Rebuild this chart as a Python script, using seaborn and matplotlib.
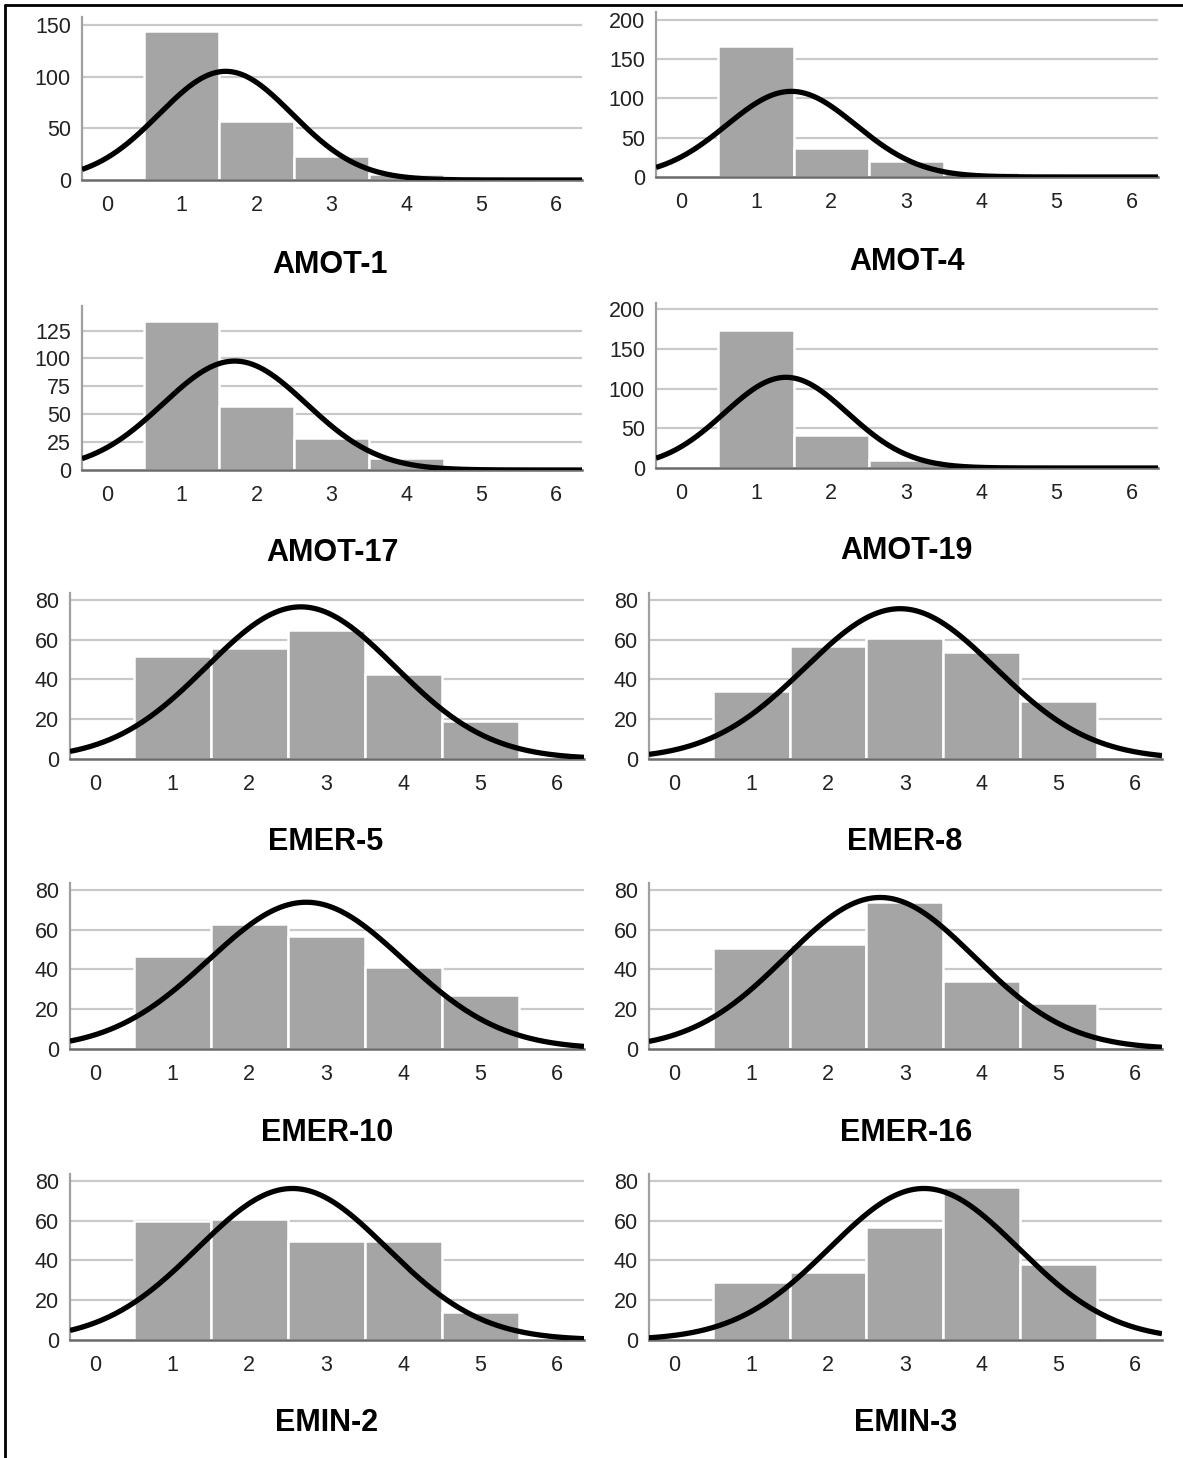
import numpy as np
import pandas as pd
import matplotlib
matplotlib.use("Agg")
import matplotlib.pyplot as plt
from matplotlib.lines import Line2D
import seaborn as sns

sns.set_theme(style="white")
plt.rcParams['font.family'] = ['Liberation Sans', 'DejaVu Sans']

# ---------------- data ----------------
panel_names = ["AMOT-1", "AMOT-4", "AMOT-17", "AMOT-19",
               "EMER-5", "EMER-8", "EMER-10", "EMER-16",
               "EMIN-2", "EMIN-3"]

amot1_values = [1, 2, 3, 4, 5, 6]
amot1_counts = [144, 57, 23, 6, 3, 1]
amot4_values = [1, 2, 3, 4, 5]
amot4_counts = [167, 37, 20, 7, 2]
amot17_values = [1, 2, 3, 4, 5, 6]
amot17_counts = [134, 57, 29, 11, 3, 1]
amot19_values = [1, 2, 3, 4, 5]
amot19_counts = [174, 41, 10, 3, 1]
emer5_values = [1, 2, 3, 4, 5]
emer5_counts = [52, 56, 65, 43, 19]
emer8_values = [1, 2, 3, 4, 5]
emer8_counts = [34, 57, 61, 54, 29]
emer10_values = [1, 2, 3, 4, 5]
emer10_counts = [47, 63, 57, 41, 27]
emer16_values = [1, 2, 3, 4, 5]
emer16_counts = [51, 53, 74, 34, 23]
emin2_values = [1, 2, 3, 4, 5]
emin2_counts = [60, 61, 50, 50, 14]
emin3_values = [1, 2, 3, 4, 5]
emin3_counts = [29, 34, 57, 77, 38]

# fitted normal curve parameters (mean, std. dev.) and sample size
curve_means = [1.59, 1.47, 1.71, 1.40, 2.67, 2.94, 2.74, 2.68, 2.56, 3.25]
curve_sds = [0.89, 0.86, 0.96, 0.82, 1.225, 1.24, 1.27, 1.23, 1.23, 1.23]
sample_n = 235

y_tick_steps = [50, 50, 25, 50, 20, 20, 20, 20, 20, 20]
y_tick_max = [150, 200, 125, 200, 80, 80, 80, 80, 80, 80]
y_limits = [158, 210, 147, 208, 83.5, 83.5, 83.5, 83.5, 83.5, 83.5]
x_tick_labels = [0, 1, 2, 3, 4, 5, 6]

values_list = [amot1_values, amot4_values, amot17_values, amot19_values,
               emer5_values, emer8_values, emer10_values, emer16_values,
               emin2_values, emin3_values]
counts_list = [amot1_counts, amot4_counts, amot17_counts, amot19_counts,
               emer5_counts, emer8_counts, emer10_counts, emer16_counts,
               emin2_counts, emin3_counts]

# ---------------- layout (pixels) ----------------
W, H = 1183, 1458
fig = plt.figure(figsize=(W / 100, H / 100), dpi=100)
fig.patch.set_facecolor("white")

# (left, top, right, bottom) in px
boxes = [
    (82, 17, 582, 180), (656, 12, 1158, 177),
    (82, 306, 582, 470), (656, 303, 1158, 468),
    (70, 593, 584, 759), (649, 593, 1162, 759),
    (70, 883, 584, 1049), (649, 883, 1162, 1049),
    (70, 1174, 584, 1340), (649, 1174, 1162, 1340),
]
title_pos = [
    (330, 265), (907, 262),
    (332, 553), (906, 551),
    (326, 842), (905, 842),
    (327, 1133), (906, 1133),
    (327, 1423), (906, 1423),
]

bar_color = "#a5a5a5"
grid_color = "#c9c9c9"
axis_color = "#a0a0a0"
xlim = (-0.33, 6.35)

for i, name in enumerate(panel_names):
    l, t, r, b = boxes[i]
    ax = fig.add_axes([l / W, 1 - b / H, (r - l) / W, (b - t) / H])
    df = pd.DataFrame({"value": values_list[i], "count": counts_list[i]})
    sns.histplot(data=df, x="value", weights="count", discrete=True,
                 color=bar_color, alpha=1, edgecolor="white", linewidth=1.8,
                 ax=ax, zorder=2)
    xs = np.linspace(xlim[0], xlim[1], 400)
    mu, sd = curve_means[i], curve_sds[i]
    ys = sample_n * np.exp(-0.5 * ((xs - mu) / sd) ** 2) / (sd * np.sqrt(2 * np.pi))
    sns.lineplot(x=xs, y=ys, color="black", linewidth=3.8, ax=ax, zorder=4,
                 solid_capstyle="butt")
    ax.set_xlim(*xlim)
    ax.set_ylim(0, y_limits[i])
    yt = list(range(0, y_tick_max[i] + 1, y_tick_steps[i]))
    ax.set_yticks(yt)
    ax.set_yticklabels([str(v) for v in yt])
    ax.set_xticks(x_tick_labels)
    ax.set_xticklabels([str(v) for v in x_tick_labels])
    for v in yt[1:]:
        ax.axhline(v, color=grid_color, linewidth=1.6, zorder=1)
    ax.tick_params(axis="x", length=0, pad=11, labelsize=15.5, labelcolor="#222222")
    ax.tick_params(axis="y", length=0, pad=8, labelsize=15.5, labelcolor="#222222")
    ax.set_xlabel("")
    ax.set_ylabel("")
    ax.grid(False)
    for s in ["top", "right"]:
        ax.spines[s].set_visible(False)
    ax.spines["left"].set_color(axis_color)
    ax.spines["left"].set_linewidth(1.6)
    ax.spines["bottom"].set_color("#6a6a6a")
    ax.spines["bottom"].set_linewidth(1.8)
    ax.spines["bottom"].set_zorder(3)
    ax.set_facecolor("none")
    ax.set_axisbelow(True)
    tx, ty = title_pos[i]
    fig.text(tx / W, 1 - ty / H, name, ha="center", va="center",
             fontsize=22, fontweight="bold", color="black")

# outer frame (left and top edges)
fig.add_artist(Line2D([5 / W, 5 / W], [0, 1 - 5 / H], color="black", linewidth=2,
                      transform=fig.transFigure))
fig.add_artist(Line2D([5 / W, 1], [1 - 5 / H, 1 - 5 / H], color="black", linewidth=2,
                      transform=fig.transFigure))

fig.savefig("out.png", dpi=100, facecolor="white")
